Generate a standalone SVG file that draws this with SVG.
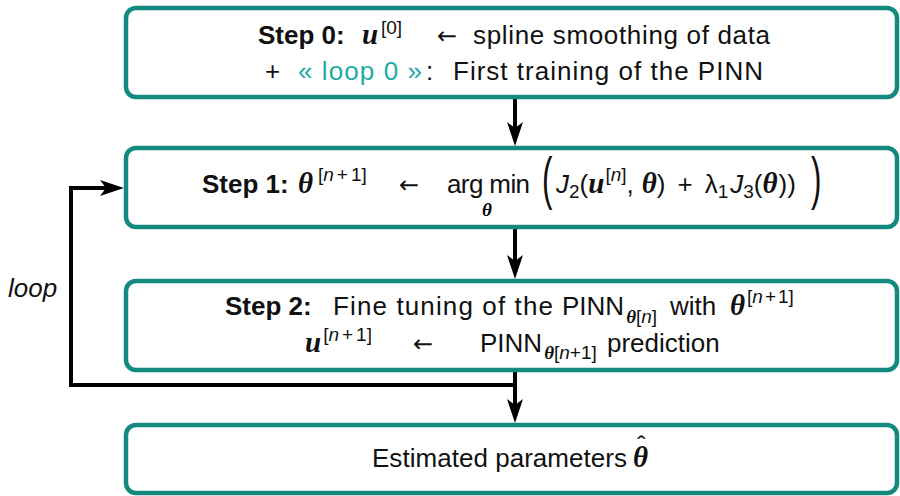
<svg xmlns="http://www.w3.org/2000/svg" width="900" height="496" viewBox="0 0 900 496">
<style>
.box{fill:#fff;stroke:#13897f;stroke-width:4.5}
.t{font-family:"Liberation Sans",Arial,sans-serif;font-size:26px;fill:#111}
.b{font-weight:bold}
.m{font-family:"Liberation Serif","DejaVu Serif",serif;font-weight:bold;font-style:italic;font-size:29px;fill:#111}
.ms{font-family:"Liberation Serif","DejaVu Serif",serif;font-weight:bold;font-style:italic;font-size:19px}
.s{font-family:"Liberation Sans",Arial,sans-serif;font-size:19px;fill:#111}
.i{font-style:italic}
.ar{font-family:"DejaVu Sans",sans-serif;font-size:24px;fill:#111}
.teal{fill:#22aba5}
.par{font-family:"Liberation Sans",Arial,sans-serif;font-size:57px;fill:#111}
.con{fill:none;stroke:#000;stroke-width:4;stroke-linejoin:miter}
</style>
<defs>
<marker id="ah" viewBox="0 0 24 16" refX="10" refY="8" markerWidth="24" markerHeight="16" markerUnits="userSpaceOnUse" orient="auto">
<path d="M0,0 L24,8 L0,16 L6,8 Z" fill="#000"/>
</marker>
</defs>

<g id="connectors">
<path class="con" d="M515,99 V132" marker-end="url(#ah)"/>
<path class="con" d="M515,229 V265" marker-end="url(#ah)"/>
<path class="con" d="M515,372 V409" marker-end="url(#ah)"/>
<path class="con" d="M517,385 H71 V188 H110" marker-end="url(#ah)"/>
<text class="t i" x="8" y="297">loop</text>
</g>

<g id="step0">
<rect class="box" x="126" y="8" width="771" height="89" rx="10"/>
<text class="t b" x="258" y="44">Step 0:</text>
<text class="m" x="362" y="44">u</text>
<text class="s" x="381" y="34">[0]</text>
<text class="ar" x="437" y="44" textLength="26">←</text>
<text class="t" x="473" y="44" textLength="297">spline smoothing of data</text>
<text class="t" x="265" y="80">+</text>
<text class="t teal" x="298" y="80" textLength="124">« loop 0 »</text>
<text class="t" x="426" y="80">:</text>
<text class="t" x="453" y="80" textLength="310">First training of the PINN</text>
</g>

<g id="step1">
<rect class="box" x="126" y="148" width="771" height="79" rx="10"/>
<text class="t b" x="202" y="193">Step 1:</text>
<text class="m" x="298" y="193">θ</text>
<text class="s" x="318" y="181">[<tspan class="i">n</tspan><tspan dx="3">+</tspan><tspan dx="3">1]</tspan></text>
<text class="ar" x="399" y="193" textLength="26">←</text>
<text class="t" x="447" y="193" textLength="83">arg min</text>
<text class="ms" x="482" y="216">θ</text>
<text class="par" x="542" y="198" transform="translate(542 0) scale(0.55 1) translate(-542 0)">(</text>
<text class="t" x="556" y="193"><tspan class="i">J</tspan><tspan class="s" dy="5">2</tspan><tspan dy="-5">(</tspan><tspan class="m">u</tspan><tspan class="s" dx="1" dy="-12">[<tspan class="i">n</tspan>]</tspan><tspan dy="12">,</tspan><tspan class="m" dx="8">θ</tspan><tspan>)</tspan><tspan dx="12">+</tspan><tspan dx="12">λ</tspan><tspan class="s" dy="5">1</tspan><tspan class="i" dx="2" dy="-5">J</tspan><tspan class="s" dy="5">3</tspan><tspan dy="-5">(</tspan><tspan class="m">θ</tspan><tspan dx="1">))</tspan></text>
<text class="par" x="811" y="198" transform="translate(811 0) scale(0.55 1) translate(-811 0)">)</text>
</g>

<g id="step2">
<rect class="box" x="126" y="281" width="771" height="89" rx="10"/>
<text class="t b" x="225" y="315">Step 2:</text>
<text class="t" x="333" y="315" textLength="220">Fine tuning of the</text>
<text class="t" x="562" y="315">PINN<tspan class="ms" dx="2" dy="8">θ</tspan><tspan class="s">[<tspan class="i">n</tspan>]</tspan></text>
<text class="t" x="670" y="315">with</text>
<text x="730" y="315"><tspan class="m">θ</tspan><tspan class="s" dx="2" dy="-12">[<tspan class="i">n</tspan><tspan dx="2">+</tspan><tspan dx="2">1]</tspan></tspan></text>
<text x="305" y="352"><tspan class="m">u</tspan><tspan class="s" dx="2" dy="-11">[<tspan class="i">n</tspan><tspan dx="3">+</tspan><tspan dx="3">1]</tspan></tspan></text>
<text class="ar" x="413" y="352" textLength="27">←</text>
<text class="t" x="480" y="352">PINN<tspan class="ms" dx="2" dy="7">θ</tspan><tspan class="s" font-size="16">[<tspan class="i">n</tspan>+1]</tspan></text>
<text class="t" x="607" y="352">prediction</text>
</g>

<g id="result">
<rect class="box" x="126" y="425" width="771" height="68" rx="10"/>
<text class="t" x="372" y="467" textLength="255">Estimated parameters</text>
<text x="633" y="467"><tspan class="m">θ</tspan><tspan class="t" font-size="22" dx="-11" dy="-13">ˆ</tspan></text>
</g>
</svg>
